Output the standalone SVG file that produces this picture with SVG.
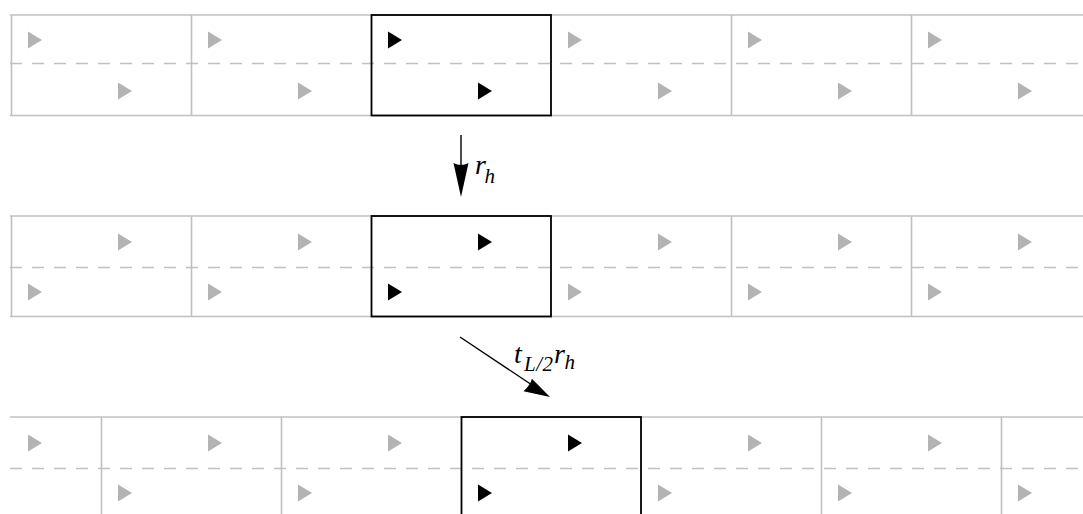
<svg xmlns="http://www.w3.org/2000/svg" xmlns:xlink="http://www.w3.org/1999/xlink" width="1083" height="514" viewBox="0 0 1083 514">
  <style>
    .rule { stroke: #c0c0c0; stroke-width: 1.6; fill: none; }
    .dash { stroke: #c0c0c0; stroke-width: 1.6; fill: none; stroke-dasharray: 12 10; }
    .frame { stroke: #000; stroke-width: 1.8; fill: none; }
    .g { fill: #b3b3b3; }
    .k { fill: #000; }
    .lbl { font-family: "Liberation Serif", "Times New Roman", serif; font-style: italic; fill: #000; font-size: 28px; }
    .sub { font-size: 21px; }
    .conn { stroke: #000; stroke-width: 1.4; fill: none; }
  </style>
  <defs>
    <path id="tri" d="M0,-8.5 L14,0 L0,8.5 Z"/>
  </defs>
  <rect width="1083" height="514" fill="#fff"/>

  <!-- strip 1 -->
  <g id="strip1">
    <line class="rule" x1="10" y1="15" x2="1083" y2="15"/>
    <line class="rule" x1="10" y1="115.5" x2="1083" y2="115.5"/>
    <line class="dash" x1="10" y1="63.5" x2="1083" y2="63.5"/>
    <g class="rule">
      <line x1="11.5" y1="15" x2="11.5" y2="115.5"/>
      <line x1="191.5" y1="15" x2="191.5" y2="115.5"/>
      <line x1="731.5" y1="15" x2="731.5" y2="115.5"/>
      <line x1="911.5" y1="15" x2="911.5" y2="115.5"/>
    </g>
    <g class="g">
      <use xlink:href="#tri" x="28" y="40"/>
      <use xlink:href="#tri" x="118" y="91"/>
      <use xlink:href="#tri" x="208" y="40"/>
      <use xlink:href="#tri" x="298" y="91"/>
      <use xlink:href="#tri" x="568" y="40"/>
      <use xlink:href="#tri" x="658" y="91"/>
      <use xlink:href="#tri" x="748" y="40"/>
      <use xlink:href="#tri" x="838" y="91"/>
      <use xlink:href="#tri" x="928" y="40"/>
      <use xlink:href="#tri" x="1018" y="91"/>
    </g>
    <rect class="frame" x="371.5" y="15" width="179.5" height="100.5"/>
    <g class="k">
      <use xlink:href="#tri" x="388" y="40"/>
      <use xlink:href="#tri" x="478" y="91"/>
    </g>
  </g>

  <!-- strip 2 -->
  <g id="strip2">
    <line class="rule" x1="10" y1="216" x2="1083" y2="216"/>
    <line class="rule" x1="10" y1="316.5" x2="1083" y2="316.5"/>
    <line class="dash" x1="10" y1="267.5" x2="1083" y2="267.5"/>
    <g class="rule">
      <line x1="11.5" y1="216" x2="11.5" y2="316.5"/>
      <line x1="191.5" y1="216" x2="191.5" y2="316.5"/>
      <line x1="731.5" y1="216" x2="731.5" y2="316.5"/>
      <line x1="911.5" y1="216" x2="911.5" y2="316.5"/>
    </g>
    <g class="g">
      <use xlink:href="#tri" x="118" y="242"/>
      <use xlink:href="#tri" x="28" y="292"/>
      <use xlink:href="#tri" x="298" y="242"/>
      <use xlink:href="#tri" x="208" y="292"/>
      <use xlink:href="#tri" x="658" y="242"/>
      <use xlink:href="#tri" x="568" y="292"/>
      <use xlink:href="#tri" x="838" y="242"/>
      <use xlink:href="#tri" x="748" y="292"/>
      <use xlink:href="#tri" x="1018" y="242"/>
      <use xlink:href="#tri" x="928" y="292"/>
    </g>
    <rect class="frame" x="371.5" y="216" width="179.5" height="100.5"/>
    <g class="k">
      <use xlink:href="#tri" x="478" y="242"/>
      <use xlink:href="#tri" x="388" y="292"/>
    </g>
  </g>

  <!-- strip 3 (shifted by half a cell) -->
  <g id="strip3">
    <line class="rule" x1="10" y1="417" x2="1083" y2="417"/>
    <line class="dash" x1="10" y1="468.5" x2="1083" y2="468.5"/>
    <g class="rule">
      <line x1="101.5" y1="417" x2="101.5" y2="520"/>
      <line x1="281.5" y1="417" x2="281.5" y2="520"/>
      <line x1="821.5" y1="417" x2="821.5" y2="520"/>
      <line x1="1001.5" y1="417" x2="1001.5" y2="520"/>
    </g>
    <g class="g">
      <use xlink:href="#tri" x="28" y="443"/>
      <use xlink:href="#tri" x="208" y="443"/>
      <use xlink:href="#tri" x="118" y="493"/>
      <use xlink:href="#tri" x="388" y="443"/>
      <use xlink:href="#tri" x="298" y="493"/>
      <use xlink:href="#tri" x="748" y="443"/>
      <use xlink:href="#tri" x="658" y="493"/>
      <use xlink:href="#tri" x="928" y="443"/>
      <use xlink:href="#tri" x="838" y="493"/>
      <use xlink:href="#tri" x="1018" y="493"/>
    </g>
    <rect class="frame" x="461.5" y="417" width="179.5" height="110"/>
    <g class="k">
      <use xlink:href="#tri" x="568" y="443"/>
      <use xlink:href="#tri" x="478" y="493"/>
    </g>
  </g>

  <!-- maps between strips -->
  <g id="connectors">
    <line class="conn" x1="461" y1="135" x2="461" y2="170"/>
    <path class="k" d="M461,197 L453.5,163 Q461,167 468.5,163 Z"/>
    <text class="lbl"><tspan x="475" y="174">r</tspan><tspan class="sub" x="484.5" y="183">h</tspan></text>

    <line class="conn" x1="460" y1="337" x2="532" y2="385"/>
    <path class="k" d="M550,397 L523.6,391.2 Q530.5,384.5 531.9,378.7 Z"/>
    <text class="lbl"><tspan x="514" y="363">t</tspan><tspan class="sub" x="524" y="371" letter-spacing="0.5">L/2</tspan><tspan x="554" y="363">r</tspan><tspan class="sub" x="564.5" y="369">h</tspan></text>
  </g>
</svg>
